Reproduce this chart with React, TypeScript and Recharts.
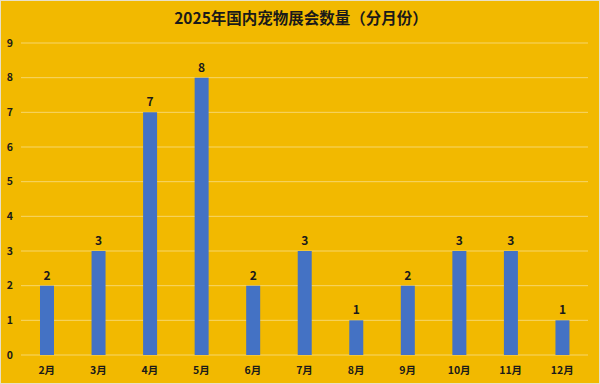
import React from 'react';
import { BarChart, Bar, XAxis, YAxis, CartesianGrid, LabelList } from 'recharts';

const months = ['2月', '3月', '4月', '5月', '6月', '7月', '8月', '9月', '10月', '11月', '12月'];
const counts = [2, 3, 7, 8, 2, 3, 1, 2, 3, 3, 1];
const yTicks = [0, 1, 2, 3, 4, 5, 6, 7, 8, 9];

const data = months.map((m, i) => ({ month: m, count: counts[i] }));

const FONT = '"Noto Sans CJK SC", "Noto Sans", sans-serif';

const App: React.FC = () => {
  return (
    <div
      style={{
        position: 'absolute',
        left: 0,
        top: 0,
        width: 600,
        height: 384,
        background: '#F2B900',
        boxSizing: 'border-box',
        border: '1px solid #E8E0C8',
        fontFamily: FONT,
      }}
    >
      <div
        style={{
          position: 'absolute',
          top: 5,
          left: 0,
          width: 600,
          textAlign: 'center',
          fontSize: 15.5,
          fontWeight: 700,
          color: '#1a1a1a',
        }}
      >
        2025年国内宠物展会数量（分月份）
      </div>
      <div style={{ position: 'absolute', left: -1, top: -1 }}>
        <BarChart
          width={600}
          height={384}
          data={data}
          margin={{ top: 43, right: 12, left: 0, bottom: 4 }}
        >
          <CartesianGrid vertical={false} stroke="#F7D66A" strokeWidth={1} />
          <XAxis
            dataKey="month"
            axisLine={false}
            tickLine={false}
            height={25}
            tickMargin={6}
            tick={{ fill: '#1a1a1a', fontSize: 10.5, fontWeight: 700, fontFamily: FONT }}
          />
          <YAxis
            width={21}
            domain={[0, 9]}
            ticks={yTicks}
            axisLine={false}
            tickLine={false}
            tick={{ fill: '#1a1a1a', fontSize: 10.5, fontWeight: 700, fontFamily: FONT }}
          />
          <Bar dataKey="count" fill="#4472C4" barSize={14} isAnimationActive={false}>
            <LabelList
              dataKey="count"
              position="top"
              offset={6}
              style={{ fill: '#1a1a1a', fontSize: 12, fontWeight: 700, fontFamily: FONT }}
            />
          </Bar>
        </BarChart>
      </div>
    </div>
  );
};

export default App;
